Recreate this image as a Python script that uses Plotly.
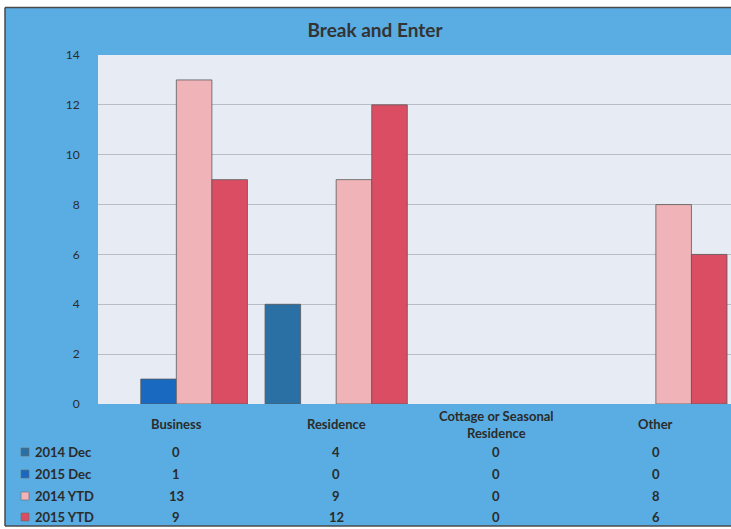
import plotly.graph_objects as go

categories = ["Business", "Residence", "Cottage or Seasonal Residence", "Other"]
category_labels = ["Business", "Residence", "Cottage or Seasonal<br>Residence", "Other"]
series_names = ["2014 Dec", "2015 Dec", "2014 YTD", "2015 YTD"]
dec_2014 = [0, 4, 0, 0]
dec_2015 = [1, 0, 0, 0]
ytd_2014 = [13, 9, 0, 8]
ytd_2015 = [9, 12, 0, 6]
series_values = [dec_2014, dec_2015, ytd_2014, ytd_2015]
colors = ["#2a70a4", "#1a69c0", "#f0b4b8", "#db4d62"]
y_ticks = [0, 2, 4, 6, 8, 10, 12, 14]

W, H = 731, 529
ML, MR, MT, MB = 98, 0, 55, 125
PW, PH = W - ML - MR, H - MT - MB

def px_x(px):
    return (px - ML) / PW

def px_y(py):
    return (H - MB - py) / PH

FONT = "Lato"
TXT = "#2b2b2b"
FS = 13

fig = go.Figure()
xs = list(range(len(categories)))
for name, vals, col in zip(series_names, series_values, colors):
    fig.add_trace(go.Bar(
        x=xs, y=vals, name=name,
        marker=dict(color=col, line=dict(color="#5a5a5a",
                                         width=[0.8 if v > 0 else 0 for v in vals])),
    ))

annotations = []
for i, lab in enumerate(category_labels):
    annotations.append(dict(
        x=i, xref="x", y=px_y(424), yref="paper", text="<b>%s</b>" % lab,
        showarrow=False, xanchor="center", yanchor="middle",
        font=dict(family=FONT, size=FS, color=TXT),
    ))

shapes = []
row_y = [452, 474, 496, 517]
for name, vals, col, ry in zip(series_names, series_values, colors, row_y):
    shapes.append(dict(type="rect", xref="paper", yref="paper",
                       x0=px_x(21), x1=px_x(29), y0=px_y(ry + 4), y1=px_y(ry - 4),
                       fillcolor=col, line=dict(color="#6a6a6a", width=0.6)))
    annotations.append(dict(
        x=px_x(33), xref="paper", y=px_y(ry), yref="paper",
        text="<b>%s</b>" % name,
        showarrow=False, xanchor="left", yanchor="middle",
        font=dict(family=FONT, size=FS, color=TXT),
    ))
    for i, v in enumerate(vals):
        annotations.append(dict(
            x=i, xref="x", y=px_y(ry), yref="paper", text="<b>%d</b>" % v,
            showarrow=False, xanchor="center", yanchor="middle",
            font=dict(family=FONT, size=FS, color=TXT),
        ))

shapes += [
    dict(type="rect", xref="paper", yref="paper", x0=px_x(-2), x1=px_x(W + 2),
         y0=px_y(7), y1=px_y(-2), fillcolor="white", line=dict(width=0), layer="above"),
    dict(type="rect", xref="paper", yref="paper", x0=px_x(-2), x1=px_x(5),
         y0=px_y(H + 2), y1=px_y(-2), fillcolor="white", line=dict(width=0), layer="above"),
    dict(type="rect", xref="paper", yref="paper", x0=px_x(-2), x1=px_x(W + 2),
         y0=px_y(H + 2), y1=px_y(526), fillcolor="white", line=dict(width=0), layer="above"),
    dict(type="line", xref="paper", yref="paper", x0=px_x(5), x1=px_x(W + 2),
         y0=px_y(7.5), y1=px_y(7.5), line=dict(color="#4a4a4a", width=1.5)),
    dict(type="line", xref="paper", yref="paper", x0=px_x(5), x1=px_x(5),
         y0=px_y(7.5), y1=px_y(526), line=dict(color="#4a4a4a", width=1.5)),
    dict(type="line", xref="paper", yref="paper", x0=px_x(5), x1=px_x(W + 2),
         y0=px_y(526), y1=px_y(526), line=dict(color="#4a4a4a", width=1.5)),
]

fig.update_layout(
    width=W, height=H,
    margin=dict(l=ML, r=MR, t=MT, b=MB, pad=0),
    paper_bgcolor="#59ade2",
    plot_bgcolor="#e6ebf4",
    barmode="group", bargap=0.11, bargroupgap=0.0,
    showlegend=False,
    title=dict(text="<b>Break and Enter</b>", x=375 / W,
               xanchor="center", y=1 - 30 / H, yanchor="middle",
               font=dict(family=FONT, size=19, color="#333333")),
    annotations=annotations,
    shapes=shapes,
    xaxis=dict(range=[-0.49, 3.47], showticklabels=False, showgrid=False,
               zeroline=False, showline=False, ticks="",
               tickvals=xs, ticktext=category_labels),
    yaxis=dict(range=[0, 14], tickvals=y_ticks, showgrid=True, gridcolor="#b9bdc5",
               gridwidth=1, zeroline=False, showline=False,
               ticks="outside", ticklen=15, tickcolor="rgba(0,0,0,0)",
               tickfont=dict(family=FONT, size=12, color=TXT),
               tickprefix="<b>", ticksuffix="</b>"),
)

fig.write_html("out.html", config={"displayModeBar": False},
               post_script="document.body.style.margin='0';document.body.style.overflow='hidden';")
